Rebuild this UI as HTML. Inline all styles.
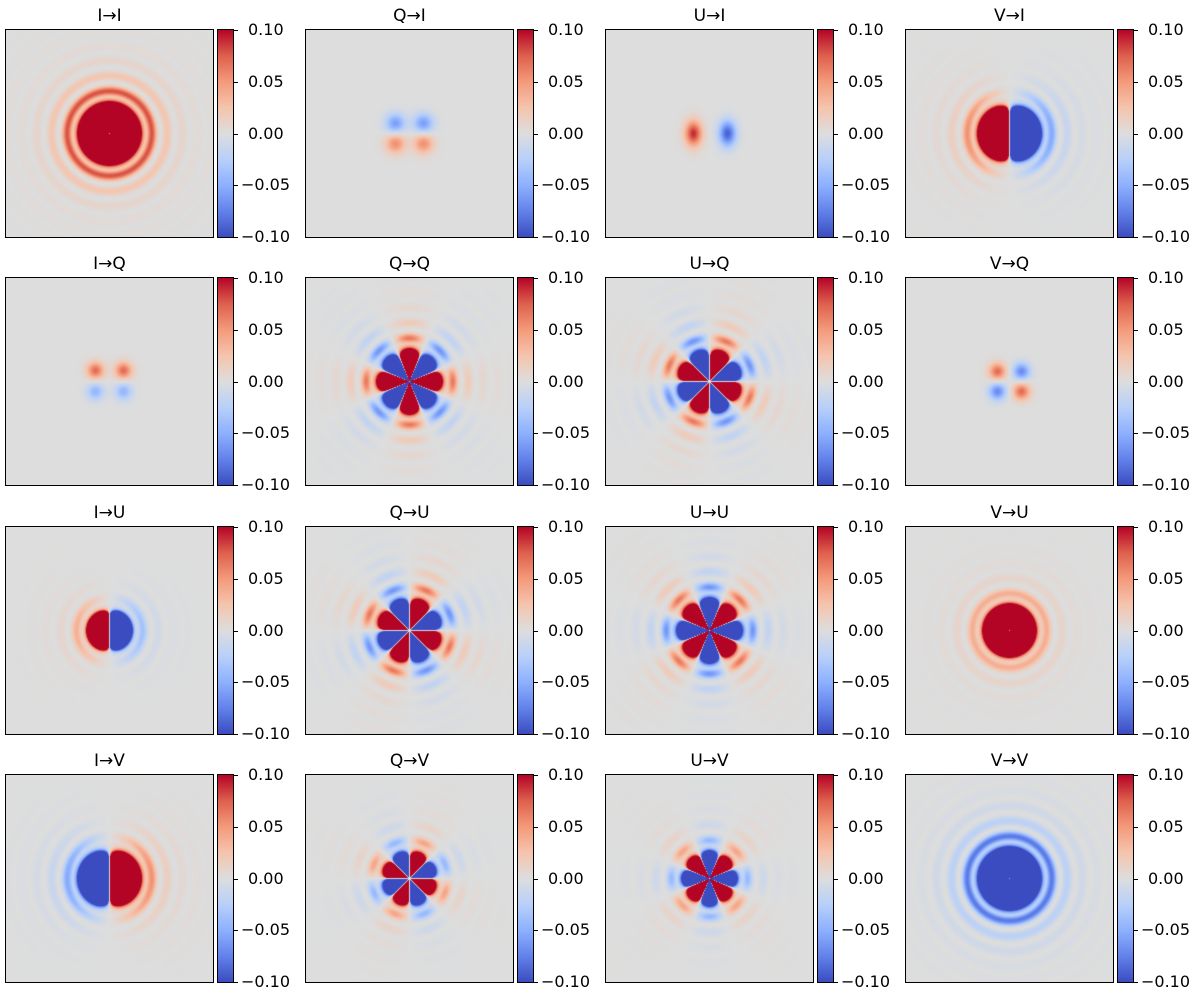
<!DOCTYPE html>
<html><head><meta charset="utf-8">
<style>
html,body{margin:0;padding:0;background:#fff;}
#fig{position:relative;width:1200px;height:994px;overflow:hidden;font-family:"DejaVu Sans","Liberation Sans",sans-serif;color:#000;}
.title{position:absolute;font-size:17px;text-align:center;width:207px;line-height:20px;}
canvas.img{position:absolute;border:1px solid #000;box-sizing:content-box;}
.cbar{position:absolute;width:15px;border:1px solid #000;
background:linear-gradient(to bottom,rgb(180,4,38) 0%,rgb(222,96,77) 12.5%,rgb(244,154,123) 25%,rgb(245,196,173) 37.5%,rgb(221,221,221) 50%,rgb(184,208,249) 62.5%,rgb(141,176,254) 75%,rgb(98,130,234) 87.5%,rgb(59,76,192) 100%);}
.tick{position:absolute;width:4px;height:1px;background:#000;}
.tlab{position:absolute;font-size:16px;line-height:18px;white-space:nowrap;}
</style></head>
<body>
<div id="fig"></div>
<script>
// ---- data ----
const panelTitles = ["I→I","Q→I","U→I","V→I","I→Q","Q→Q","U→Q","V→Q","I→U","Q→U","U→U","V→U","I→V","Q→V","U→V","V→V"];
const panelKind   = ["ring","blob","blob","ring","blob","ring","ring","blob","ring","ring","ring","ring","ring","ring","ring","ring"];
const angOrder    = [0,0,0,1,0,4,4,0,1,4,4,0,1,4,4,0];
const angPhase    = [0,0,0,0,0,0,90,0,0,90,180,0,0,90,180,0];
const panelSign   = [1,1,1,-1,1,1,1,1,-1,1,1,1,1,1,1,-1];
const coreRadius  = [32,0,0,32,0,33,33,0,23,33,33,27,32,28,28,32];
const ringAmp     = [0.075,0,0,0.05,0,0.06,0.06,0,0.035,0.06,0.06,0.035,0.05,0.04,0.04,0.075];
// blobs: panel index, x offset, y offset (px, down positive), value, sigma x, sigma y
const blobPanel = [1,1,1,1, 2,2, 4,4,4,4, 7,7,7,7];
const blobX     = [-14,14,-14,14, -16,18, -14,14,-14,14, -12,12,-12,12];
const blobY     = [-10,-10,10,10, 0,0, -11,-11,10,10, -10,-10,10,10];
const blobVal   = [-0.06,-0.06,0.055,0.055, 0.09,-0.09, 0.07,0.07,-0.045,-0.045, 0.07,-0.07,-0.07,0.07];
const blobSx    = [7,7,7,7, 6,6, 6,6,6,6, 6,6,6,6];
const blobSy    = [7,7,7,7, 9,9, 6,6,6,6, 6,6,6,6];
const tickValues = [0.10,0.05,0.00,-0.05,-0.10];
const tickLabels = ["0.10","0.05","0.00","−0.05","−0.10"];
const vmin=-0.1, vmax=0.1;

const colLeft=[5,305,605,905], rowTop=[29,277,526,774], S=207;
const cmapStops=[[59,76,192],[98,130,234],[141,176,254],[184,208,249],[221,221,221],[245,196,173],[244,154,123],[222,96,77],[180,4,38]];
function cmap(v){
  let t=(v-vmin)/(vmax-vmin); t=Math.max(0,Math.min(1,t));
  const f=t*8, i=Math.min(7,Math.floor(f)), u=f-i;
  const a=cmapStops[i], b=cmapStops[i+1];
  return [a[0]+(b[0]-a[0])*u,a[1]+(b[1]-a[1])*u,a[2]+(b[2]-a[2])*u];
}
function yScale(v,top){ return top + (vmax - v)/(vmax-vmin)*S; }

function valueAt(p,dx,dy){
  const r=Math.hypot(dx,dy);
  let v=0;
  if(panelKind[p]==="blob"){
    for(let k=0;k<blobPanel.length;k++){
      if(blobPanel[k]!==p) continue;
      const ex=(dx-blobX[k])/blobSx[k], ey=(dy-blobY[k])/blobSy[k];
      v+=blobVal[k]*Math.exp(-0.5*(ex*ex+ey*ey));
    }
    return v;
  }
  const R=coreRadius[p];
  const m=angOrder[p];
  const R0=R/(m===1?1.32:1.2);
  let core=1/(1+Math.pow(r/R0,12));
  let ring=0;
  if(r>R+4){ const s=Math.sin(Math.PI*(r-R-4)/15); ring=s*s*Math.pow((R+11)/r,4); }
  if(m>0){
    const th=Math.atan2(-dy,dx);
    const ang=Math.cos(m*th+angPhase[p]*Math.PI/180);
    if(m===1) core*=3;
    v=(core*Math.min(1,r/4)+ringAmp[p]*ring)*ang;
  } else {
    v=core+ringAmp[p]*ring;
    v*=1-0.95*Math.exp(-((dx/4)*(dx/4)+(dy/2)*(dy/2)));
  }
  return panelSign[p]*v;
}

const fig=document.getElementById('fig');
for(let p=0;p<16;p++){
  const row=Math.floor(p/4), col=p%4;
  const L=colLeft[col], T=rowTop[row];
  const key=panelTitles[p].replace('→','-to-').toLowerCase();

  const title=document.createElement('div');
  title.className='title';
  title.style.left=(L+1)+'px'; title.style.top=(T-23)+'px';
  title.textContent=panelTitles[p];
  
  
  fig.appendChild(title);

  const cv=document.createElement('canvas');
  cv.className='img'; cv.width=S; cv.height=S;
  cv.style.left=L+'px'; cv.style.top=T+'px';
  
  
  const ctx=cv.getContext('2d'), im=ctx.createImageData(S,S);
  const c=(S-1)/2;
  for(let j=0;j<S;j++)for(let i=0;i<S;i++){
    const col3=cmap(valueAt(p,i-c,j-c)), o=(j*S+i)*4;
    im.data[o]=col3[0]; im.data[o+1]=col3[1]; im.data[o+2]=col3[2]; im.data[o+3]=255;
  }
  ctx.putImageData(im,0,0);
  fig.appendChild(cv);

  const cb=document.createElement('div');
  cb.className='cbar';
  cb.style.left=(L+212)+'px'; cb.style.top=T+'px'; cb.style.height=S+'px';
  
  
  fig.appendChild(cb);

  for(let k=0;k<tickValues.length;k++){
    const y=yScale(tickValues[k],T)+1;
    const tk=document.createElement('div');
    tk.className='tick';
    tk.style.left=(L+229)+'px'; tk.style.top=Math.round(y)+'px';
    
    
    fig.appendChild(tk);
    const lb=document.createElement('div');
    lb.className='tlab';
    lb.style.left=(L+(tickLabels[k].charAt(0)==='−'?236:243))+'px';
    lb.style.top=Math.round(y-9)+'px';
    lb.textContent=tickLabels[k];
    
    
    fig.appendChild(lb);
  }
}
</script>
</body></html>
